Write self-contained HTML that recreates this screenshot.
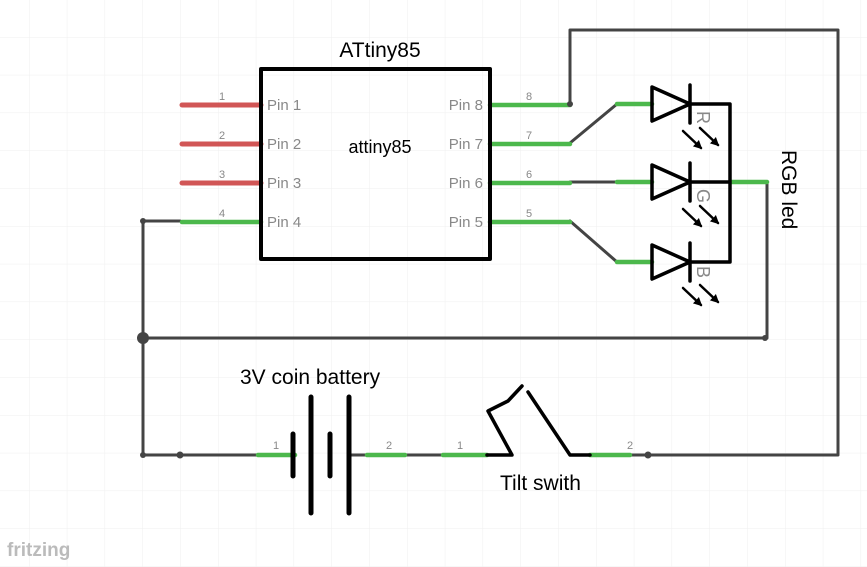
<!DOCTYPE html>
<html><head><meta charset="utf-8"><style>
html,body{margin:0;padding:0;background:#fff}
svg{display:block}
text{font-family:"Liberation Sans",sans-serif}
</style></head><body>
<svg width="867" height="567" viewBox="0 0 867 567" xmlns="http://www.w3.org/2000/svg">
<defs>
<pattern id="g" width="37.8" height="37.8" patternUnits="userSpaceOnUse" x="29" y="37">
<path d="M0 0H37.8M0 0V37.8" stroke="#efefef" stroke-width="1" fill="none"/>
</pattern>
<marker id="ar" viewBox="0 0 10 10" refX="8" refY="5" markerWidth="3.5" markerHeight="3.5" orient="auto"><path d="M0 0L10 5L0 10z" fill="#000"/></marker>
</defs>
<rect width="867" height="567" fill="url(#g)"/>
<g fill="none" stroke-linecap="round" stroke-linejoin="round">
<g stroke="#444" stroke-width="3">
<path d="M570 104V30H838V455H630"/>
<path d="M570 143L617 104"/>
<path d="M570 182H617"/>
<path d="M570 221L617 262"/>
<path d="M767 182V338H143"/>
<path d="M180 221H143V455H258"/>
<path d="M349 455H405M405 455H443"/>
</g>
<g stroke="#cc4444" stroke-width="5" opacity="0.9">
<path d="M182 105H261M182 144H261M182 183H261"/>
</g>
<g stroke="#4cb84c" stroke-width="4.5">
<path d="M182 222H261"/>
<path d="M490 105H570M490 144H570M490 183H570M490 222H570"/>
<path d="M617 104H652M617 182H652M617 262H652"/>
<path d="M730 182H767"/>
<path d="M258 455H295M367 455H405M443 455H487M590 455H630"/>
</g>
<rect x="261" y="69" width="229" height="190" stroke="#000" stroke-width="4"/>
<g stroke="#000" stroke-width="3.5">
<path d="M652 87L690 104L652 121Z M690 85V123"/>
<path d="M652 165L690 182L652 199Z M690 163V201"/>
<path d="M652 245L690 262L652 279Z M690 243V281"/>
<path d="M690 104H730V262H690M690 182H730"/>
<path d="M487 455H512L488 411L508 401L522 386M528 392L570 455H590"/>
</g>
<g stroke="#000" stroke-width="2.5" marker-end="url(#ar)">
<path d="M683 131L701 148"/><path d="M700 128L718 145"/>
<path d="M683 209L701 226"/><path d="M700 206L718 223"/>
<path d="M683 288L701 305"/><path d="M700 285L718 302"/>
</g>
<g stroke="#000" stroke-width="5">
<path d="M293 434V476M311 397V513M330 434V476M349 397V513"/>
</g>
</g>
<g fill="#444">
<circle cx="143" cy="338" r="6"/>
<circle cx="143" cy="221" r="3"/><circle cx="143" cy="455" r="3"/><circle cx="180" cy="455" r="3.5"/>
<circle cx="570" cy="104" r="3"/><circle cx="765" cy="338" r="3"/><circle cx="648" cy="455" r="3.5"/>
</g>
<text x="380" y="57" font-size="21" text-anchor="middle">ATtiny85</text>
<text x="380" y="153" font-size="18" text-anchor="middle">attiny85</text>
<g fill="#888" font-size="15">
<text x="267" y="110">Pin 1</text><text x="267" y="149">Pin 2</text><text x="267" y="188">Pin 3</text><text x="267" y="227">Pin 4</text>
<text x="483" y="110" text-anchor="end">Pin 8</text><text x="483" y="149" text-anchor="end">Pin 7</text><text x="483" y="188" text-anchor="end">Pin 6</text><text x="483" y="227" text-anchor="end">Pin 5</text>
</g>
<g fill="#888" font-size="11" text-anchor="middle">
<text x="222" y="100">1</text><text x="222" y="139">2</text><text x="222" y="178">3</text><text x="222" y="217">4</text>
<text x="529" y="100">8</text><text x="529" y="139">7</text><text x="529" y="178">6</text><text x="529" y="217">5</text>
<text x="276" y="449">1</text><text x="389" y="449">2</text><text x="460" y="449">1</text><text x="630" y="449">2</text>
</g>
<g fill="#888" font-size="18">
<text transform="translate(697 111) rotate(90)">R</text>
<text transform="translate(697 189) rotate(90)">G</text>
<text transform="translate(697 266) rotate(90)">B</text>
</g>
<text transform="translate(782 150) rotate(90)" font-size="21">RGB led</text>
<text x="240" y="384" font-size="21">3V coin battery</text>
<text x="500" y="490" font-size="21">Tilt swith</text>
<text x="7" y="556" font-size="19" fill="#bbb" font-weight="bold">fritzing</text>
</svg>
</body></html>
